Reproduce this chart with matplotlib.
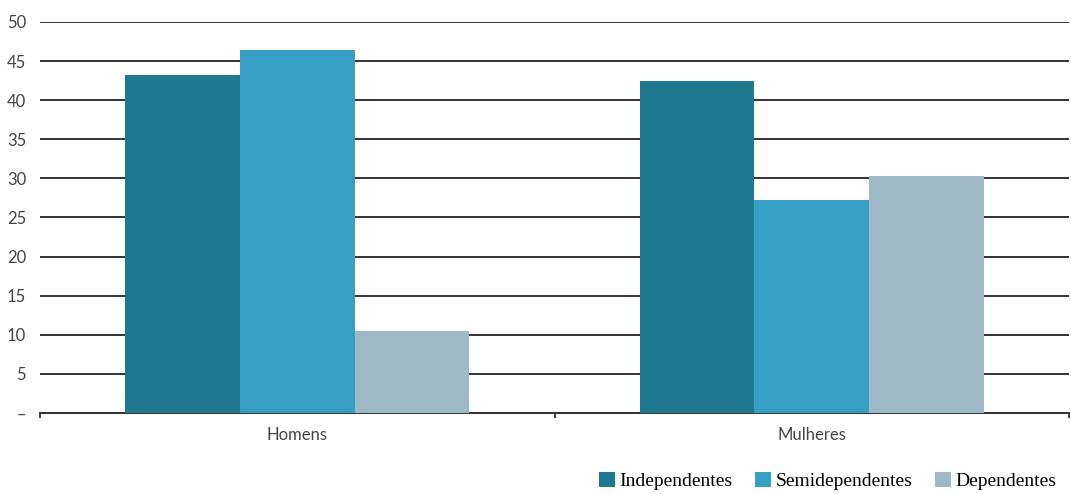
import numpy as np
import matplotlib.pyplot as plt

# -------------------- Data ----------------------- #
categories = ['Homens', 'Mulheres']
independentes = [43.2, 42.5]
semidependentes = [46.4, 27.2]
dependentes = [10.5, 30.3]
series_names = ['Independentes', 'Semidependentes', 'Dependentes']
colors = ['#1f7892', '#35a0c4', '#9db9c6']
yticks = [0, 5, 10, 15, 20, 25, 30, 35, 40, 45, 50]
ytick_labels = ['–', '5', '10', '15', '20', '25', '30', '35', '40', '45', '50']

# -------------------- Plot ----------------------- #
fig = plt.figure(figsize=(10.71, 4.94), dpi=100)
ax = fig.add_axes([0.0373, 0.164, 0.961, 0.7915])

x = np.arange(len(categories))
w = 0.223
for i, (vals, name, c) in enumerate(zip([independentes, semidependentes, dependentes], series_names, colors)):
    ax.bar(x + (i - 1) * w, vals, width=w, color=c, label=name, zorder=3)

ax.set_xlim(-0.5, 1.5)
ax.set_ylim(0, 50)
ax.set_yticks(yticks)
ax.set_yticklabels(ytick_labels, fontsize=12, color='#444444', family='Lato')
ax.grid(axis='y', color='#333333', linewidth=1.4, zorder=0)
ax.set_xticks(x)
ax.set_xticklabels(categories, fontsize=12, color='#444444', family='Lato')
ax.set_xticks([-0.5, 0.5, 1.5], minor=True)
ax.tick_params(axis='x', which='major', length=0, pad=10)
ax.tick_params(axis='x', which='minor', length=3.5, width=1.3, color='#333333')
ax.tick_params(axis='y', length=0, pad=10)
for s in ['top', 'right', 'left']:
    ax.spines[s].set_visible(False)
ax.spines['bottom'].set_color('#333333')
ax.spines['bottom'].set_linewidth(1.4)

fig.legend(loc='lower right', bbox_to_anchor=(1.003, -0.028), ncol=3, frameon=False,
           prop={'family': 'Liberation Serif', 'size': 14}, handlelength=0.82,
           handleheight=0.82, handletextpad=0.25, columnspacing=1.15)

fig.savefig('out.png', dpi=100)
